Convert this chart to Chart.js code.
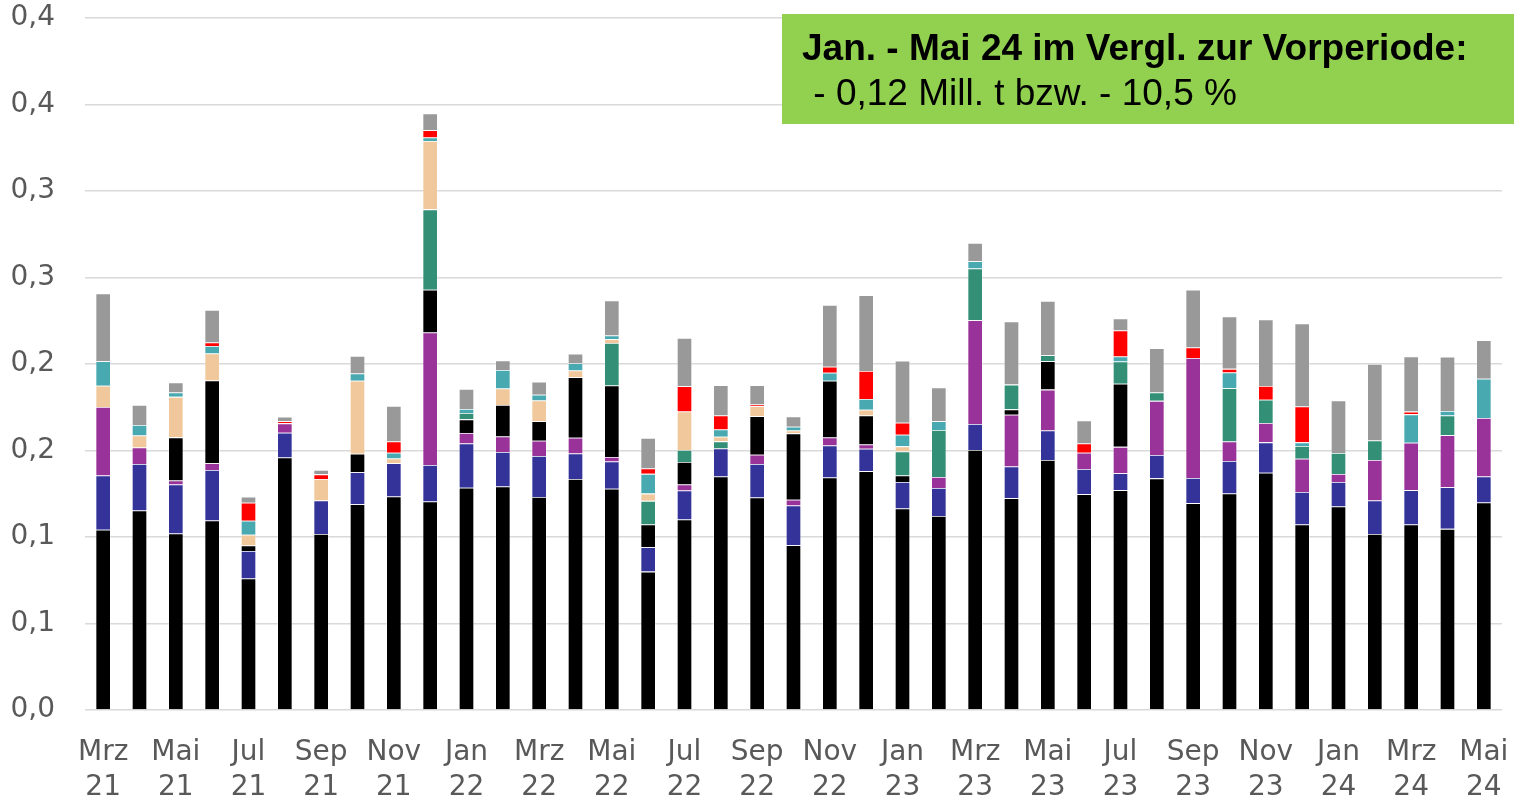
<!DOCTYPE html>
<html lang="de">
<head>
<meta charset="utf-8">
<title>Monatliche Mengen Mrz 21 - Mai 24</title>
<script src="https://cdn.jsdelivr.net/npm/chart.js@4.4.1/dist/chart.umd.min.js"></script>
<style>
  html, body { margin: 0; padding: 0; background: #FFFFFF; }
  #wrap { width: 1514px; height: 799px; position: relative; }
</style>
</head>
<body>
<div id="wrap"><canvas id="chart"></canvas></div>
<script>
// -----------------------------------------------------------------------------
// Daten (Mill. t), Mrz 21 bis Mai 24, von unten nach oben gestapelt
// -----------------------------------------------------------------------------
const MONTHS = [
  'Mrz', 'Apr', 'Mai', 'Jun', 'Jul', 'Aug', 'Sep', 'Okt', 'Nov', 'Dez',
  'Jan', 'Feb', 'Mrz', 'Apr', 'Mai', 'Jun', 'Jul', 'Aug', 'Sep', 'Okt', 'Nov', 'Dez',
  'Jan', 'Feb', 'Mrz', 'Apr', 'Mai', 'Jun', 'Jul', 'Aug', 'Sep', 'Okt', 'Nov', 'Dez',
  'Jan', 'Feb', 'Mrz', 'Apr', 'Mai',
];
const YEARS = [
  '21', '21', '21', '21', '21', '21', '21', '21', '21', '21',
  '22', '22', '22', '22', '22', '22', '22', '22', '22', '22', '22', '22',
  '23', '23', '23', '23', '23', '23', '23', '23', '23', '23', '23', '23',
  '24', '24', '24', '24', '24',
];

const S1 = [0.1042, 0.1153, 0.1020, 0.1095, 0.0760, 0.1460, 0.1017, 0.1190, 0.1234, 0.1205,
  0.1285, 0.1292, 0.1231, 0.1335, 0.1279, 0.0800, 0.1101, 0.1350, 0.1229, 0.0953, 0.1344, 0.1381,
  0.1165, 0.1121, 0.1503, 0.1225, 0.1445, 0.1248, 0.1271, 0.1339, 0.1196, 0.1252, 0.1372, 0.1072,
  0.1177, 0.1017, 0.1072, 0.1047, 0.1200];
const S2 = [0.0314, 0.0269, 0.0284, 0.0292, 0.0159, 0.0143, 0.0194, 0.0185, 0.0193, 0.0211,
  0.0256, 0.0199, 0.0237, 0.0148, 0.0158, 0.0141, 0.0168, 0.0162, 0.0193, 0.0229, 0.0185, 0.0129,
  0.0153, 0.0162, 0.0150, 0.0183, 0.0171, 0.0145, 0.0098, 0.0135, 0.0145, 0.0188, 0.0175, 0.0188,
  0.0141, 0.0194, 0.0199, 0.0241, 0.0150];
const S3 = [0.0396, 0.0096, 0.0023, 0.0040, 0, 0.0054, 0, 0, 0, 0.0766,
  0.0060, 0.0090, 0.0089, 0.0091, 0.0025, 0, 0.0035, 0, 0.0054, 0.0033, 0.0046, 0.0025,
  0, 0.0064, 0.0600, 0.0299, 0.0236, 0.0094, 0.0152, 0.0313, 0.0694, 0.0112, 0.0112, 0.0193,
  0.0046, 0.0234, 0.0274, 0.0301, 0.0338];
const S4 = [0, 0, 0.0249, 0.0478, 0.0032, 0, 0, 0.0106, 0, 0.0247,
  0.0079, 0.0182, 0.0112, 0.0349, 0.0414, 0.0131, 0.0130, 0, 0.0222, 0.0384, 0.0328, 0.0168,
  0.0038, 0, 0, 0.0031, 0.0164, 0, 0.0365, 0, 0, 0, 0, 0,
  0, 0, 0, 0, 0];
const S5 = [0, 0, 0, 0, 0, 0, 0, 0, 0, 0.0465,
  0.0037, 0, 0, 0, 0.0245, 0.0137, 0.0069, 0.0041, 0, 0, 0, 0,
  0.0139, 0.0272, 0.0299, 0.0143, 0.0035, 0, 0.0129, 0.0048, 0, 0.0308, 0.0135, 0.0073,
  0.0122, 0.0113, 0, 0.0113, 0];
const S6 = [0.0122, 0.0069, 0.0234, 0.0156, 0.0062, 0, 0.0124, 0.0422, 0.0027, 0.0395,
  0, 0.0096, 0.0120, 0.0039, 0.0023, 0.0042, 0.0223, 0.0027, 0.0058, 0.0017, 0, 0.0033,
  0.0029, 0, 0, 0, 0, 0, 0, 0, 0, 0, 0, 0,
  0, 0, 0, 0, 0];
const S7 = [0.0142, 0.0060, 0.0025, 0.0043, 0.0081, 0, 0, 0.0042, 0.0033, 0.0020,
  0.0023, 0.0106, 0.0033, 0.0042, 0.0021, 0.0114, 0, 0.0042, 0, 0.0021, 0.0046, 0.0062,
  0.0067, 0.0050, 0.0042, 0, 0, 0, 0.0029, 0, 0, 0.0091, 0, 0.0021,
  0, 0, 0.0164, 0.0027, 0.0227];
const S8 = [0, 0, 0, 0.0021, 0.0104, 0.0012, 0.0027, 0, 0.0065, 0.0042,
  0, 0, 0, 0, 0, 0.0031, 0.0145, 0.0081, 0.0010, 0, 0.0035, 0.0162,
  0.0069, 0, 0, 0, 0, 0.0054, 0.0150, 0, 0.0061, 0.0021, 0.0079, 0.0208,
  0, 0, 0.0016, 0, 0];
const S9 = [0.0392, 0.0117, 0.0058, 0.0188, 0.0035, 0.0027, 0.0025, 0.0102, 0.0205, 0.0097,
  0.0116, 0.0056, 0.0075, 0.0056, 0.0203, 0.0176, 0.0280, 0.0174, 0.0112, 0.0060, 0.0357, 0.0438,
  0.0359, 0.0195, 0.0106, 0.0365, 0.0313, 0.0133, 0.0069, 0.0256, 0.0334, 0.0303, 0.0384, 0.0480,
  0.0303, 0.0442, 0.0318, 0.0313, 0.0222];

// Achsenbeschriftung wie im Original (eine Nachkommastelle, gerundet)
const Y_TICKS = ['0,0', '0,1', '0,1', '0,2', '0,2', '0,3', '0,3', '0,4', '0,4'];

const NOTE_LINES = [
  'Jan. - Mai 24 im Vergl. zur Vorperiode:',
  ' - 0,12 Mill. t bzw. - 10,5 %',
];

const COLORS = {
  black: '#000000',
  blue: '#333399',
  purple: '#993399',
  green: '#338F76',
  peach: '#F1C89B',
  teal: '#48A9B1',
  red: '#FF0000',
  gray: '#999999',
  grid: '#D9D9D9',
  text: '#595959',
  note: '#92D050',
};

const SERIES = [
  { label: 'Reihe 1', data: S1, color: COLORS.black },
  { label: 'Reihe 2', data: S2, color: COLORS.blue },
  { label: 'Reihe 3', data: S3, color: COLORS.purple },
  { label: 'Reihe 4', data: S4, color: COLORS.black },
  { label: 'Reihe 5', data: S5, color: COLORS.green },
  { label: 'Reihe 6', data: S6, color: COLORS.peach },
  { label: 'Reihe 7', data: S7, color: COLORS.teal },
  { label: 'Reihe 8', data: S8, color: COLORS.red },
  { label: 'Reihe 9', data: S9, color: COLORS.gray },
];

// grüner Hinweiskasten oben rechts
const noteBox = {
  id: 'noteBox',
  afterDraw(chart) {
    const { ctx, width } = chart;
    ctx.save();
    ctx.fillStyle = COLORS.note;
    ctx.fillRect(782, 14, width - 782, 110);
    ctx.fillStyle = '#000000';
    ctx.textAlign = 'left';
    ctx.textBaseline = 'alphabetic';
    ctx.font = 'bold 37px "Liberation Sans", Arial, sans-serif';
    ctx.fillText(NOTE_LINES[0], 802, 60);
    ctx.font = '37px "Liberation Sans", Arial, sans-serif';
    ctx.fillText(NOTE_LINES[1], 803, 105);
    ctx.restore();
  },
};

const tickFont = { family: '"DejaVu Sans", sans-serif', size: 28, lineHeight: 1.25 };

// Label-Überstand nicht in den Zeichenbereich einrechnen
function noScalePadding(s) {
  s.paddingTop = 0;
  s.paddingBottom = 0;
  s.paddingLeft = 0;
  s.paddingRight = 0;
}

new Chart(document.getElementById('chart'), {
  type: 'bar',
  data: {
    labels: MONTHS.map((m, i) => [m, YEARS[i]]),
    datasets: SERIES.map(s => ({
      label: s.label,
      data: s.data,
      backgroundColor: s.color,
      borderColor: 'rgba(255, 255, 255, 0.35)',
      borderWidth: 0.8,
      barPercentage: 0.42,
      categoryPercentage: 1.0,
    })),
  },
  options: {
    responsive: true,
    maintainAspectRatio: false,
    animation: false,
    layout: { padding: { top: 18, right: 12, bottom: 0, left: 0 } },
    plugins: {
      legend: { display: false },
      tooltip: { enabled: true },
    },
    scales: {
      x: {
        stacked: true,
        grid: { display: false },
        border: { display: false },
        afterFit: (s) => { s.height = 89; noScalePadding(s); },
        ticks: {
          autoSkip: false,
          maxRotation: 0,
          padding: 17,
          color: COLORS.text,
          font: tickFont,
          callback: function (v, i) {
            return i % 2 === 0 ? this.getLabelForValue(v) : '';
          },
        },
      },
      y: {
        stacked: true,
        min: 0,
        max: 0.4,
        grid: { color: COLORS.grid, lineWidth: 1.5, drawTicks: false },
        border: { display: false },
        afterFit: (s) => { s.width = 85; noScalePadding(s); },
        ticks: {
          stepSize: 0.05,
          padding: 30,
          color: COLORS.text,
          font: tickFont,
          callback: (v, i) => Y_TICKS[i],
        },
      },
    },
  },
  plugins: [noteBox],
});
</script>
</body>
</html>
